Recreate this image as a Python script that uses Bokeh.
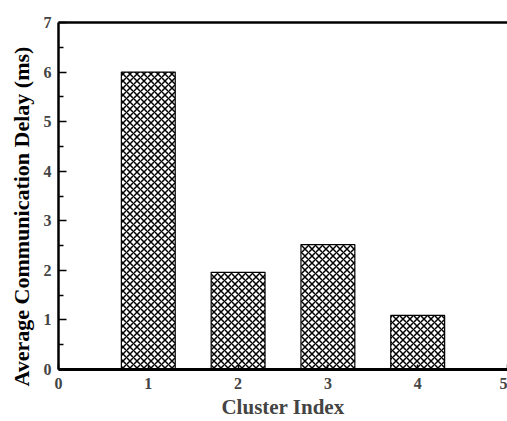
from bokeh.plotting import figure
from bokeh.models import LinearAxis, FixedTicker, Range1d, ColumnDataSource, Title
from bokeh.embed import file_html
from bokeh.resources import INLINE

clusters = [1, 2, 3, 4]
delays = [6.0, 1.96, 2.52, 1.09]
x_ticks = [0, 1, 2, 3, 4, 5]
y_ticks = [0, 1, 2, 3, 4, 5, 6, 7]
y_minor = [0.5, 1.5, 2.5, 3.5, 4.5, 5.5, 6.5]
x_title = "Cluster Index"
y_title = "Average Communication Delay (ms)"

FONT = "Liberation Serif"

p = figure(width=507, height=421, output_backend="svg", toolbar_location=None,
           x_range=Range1d(0, 5.0), y_range=Range1d(0, 7),
           min_border_left=57, min_border_right=0, min_border_top=22, min_border_bottom=50,
           x_axis_location=None, y_axis_location=None)
p.grid.visible = False
p.outline_line_color = None
p.background_fill_color = "white"
p.border_fill_color = "white"

src = ColumnDataSource(dict(x=clusters, top=delays))
p.vbar(x="x", top="top", bottom=0, width=0.6, source=src,
       fill_color="white", line_color="black", line_width=1.2,
       hatch_pattern="x", hatch_color="black", hatch_scale=7, hatch_weight=1.5)

xa = LinearAxis(ticker=FixedTicker(ticks=x_ticks), axis_label=x_title)
xa.axis_line_width = 3
xa.major_tick_in = 5
xa.major_tick_out = 0
xa.major_tick_line_width = 1.5
xa.minor_tick_line_color = None
xa.major_label_standoff = 8
xa.major_label_text_font = FONT
xa.major_label_text_font_style = "bold"
xa.major_label_text_font_size = "16px"
xa.axis_label_text_font = FONT
xa.axis_label_text_font_style = "bold"
xa.axis_label_text_font_size = "21px"
xa.axis_label_standoff = 3
p.add_layout(xa, "below")

ya = LinearAxis(ticker=FixedTicker(ticks=y_ticks, minor_ticks=y_minor))
ya.axis_line_width = 2.5
ya.major_tick_in = 8
ya.major_tick_out = 0
ya.minor_tick_in = 5
ya.minor_tick_out = 0
ya.major_tick_line_width = 1.5
ya.minor_tick_line_width = 1.5
ya.major_label_standoff = 7
ya.major_label_text_font = FONT
ya.major_label_text_font_style = "bold"
ya.major_label_text_font_size = "16px"
p.add_layout(ya, "left")

ta = LinearAxis(ticker=FixedTicker(ticks=[]))
ta.axis_line_width = 2.5
ta.major_tick_line_color = None
ta.minor_tick_line_color = None
ta.major_label_text_font_size = "0px"
p.add_layout(ta, "above")

yt = Title(text=y_title, align="left", offset=-17, standoff=13,
           text_font=FONT, text_font_style="bold", text_font_size="22px",
           text_color="black")
p.add_layout(yt, "left")

open("out.html", "w").write(file_html(p, INLINE))
